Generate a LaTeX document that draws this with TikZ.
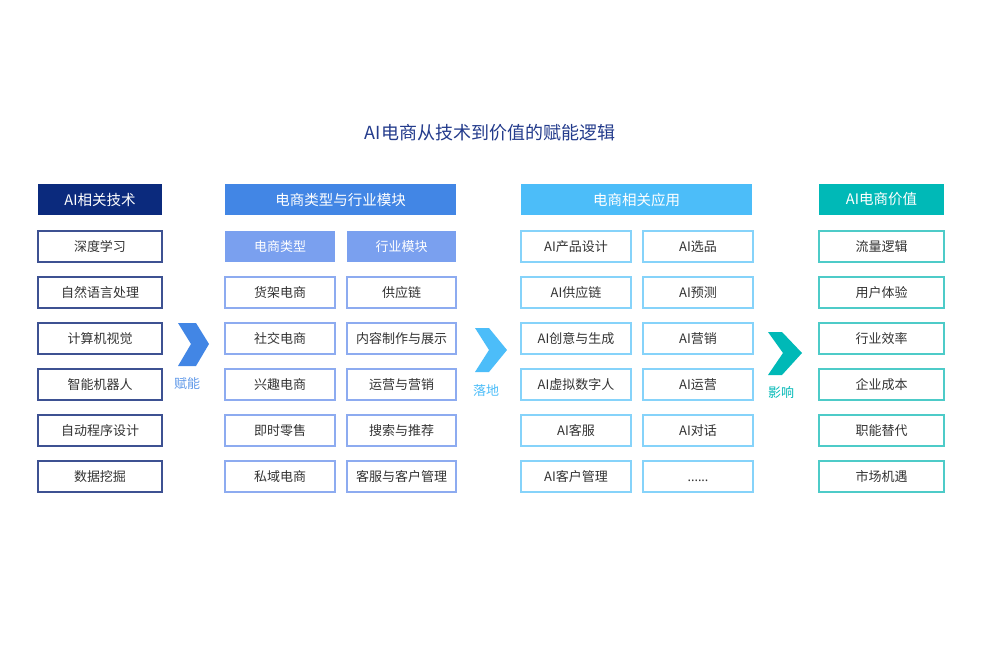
\documentclass[tikz,border=0pt]{standalone}
\usepackage{fontspec}
\setmainfont{Noto Sans CJK SC}
\newfontfamily\latinfont{Noto Sans}
\usepackage{tikz}

\definecolor{titleblue}{HTML}{233B8C}
\definecolor{navy}{HTML}{0B2A7D}
\definecolor{navyline}{HTML}{3D5192}
\definecolor{midblue}{HTML}{4286E5}
\definecolor{subblue}{HTML}{7AA0EF}
\definecolor{midline}{HTML}{8DABF0}
\definecolor{skyblue}{HTML}{4CBDF9}
\definecolor{skyline}{HTML}{86D3FA}
\definecolor{teal}{HTML}{00B9B7}
\definecolor{tealline}{HTML}{4DCBC8}
\definecolor{bodytext}{HTML}{333333}

\tikzset{
  headbox/.style={minimum height=31pt, inner sep=0pt, text=white,
    font=\fontsize{14.5}{16}\selectfont},
  itembox/.style={draw, line width=1.1pt, fill=white, minimum height=31pt,
    inner sep=0pt, text=bodytext, font=\fontsize{13}{15}\selectfont},
  arrowlabel/.style={font=\fontsize{13}{15}\selectfont}
}

\begin{document}
\begin{tikzpicture}[x=1pt, y=-1pt]
  \useasboundingbox[fill=white] (0,0) rectangle (989,654);
  % Title
  \node[text=titleblue, font=\fontsize{18}{20}\selectfont] (title) at (490,133)
    {AI电商从技术到价值的赋能逻辑};

  % Column 1: AI technologies
  \node[headbox, fill=navy, minimum width=124pt] (tech) at (100,199.5) {AI相关技术};
  \node[itembox, draw=navyline, minimum width=124pt] (tech1) at (100,246.5) {深度学习};
  \node[itembox, draw=navyline, minimum width=124pt] (tech2) at (100,292.5) {自然语言处理};
  \node[itembox, draw=navyline, minimum width=124pt] (tech3) at (100,338.5) {计算机视觉};
  \node[itembox, draw=navyline, minimum width=124pt] (tech4) at (100,384.5) {智能机器人};
  \node[itembox, draw=navyline, minimum width=124pt] (tech5) at (100,430.5) {自动程序设计};
  \node[itembox, draw=navyline, minimum width=124pt] (tech6) at (100,476.5) {数据挖掘};

  % Column 2: e-commerce types and industry modules
  \node[headbox, fill=midblue, minimum width=231pt] (biz) at (340.5,199.5) {电商类型与行业模块};
  \node[headbox, fill=subblue, minimum width=110pt, font=\fontsize{13}{15}\selectfont]
    (types) at (280,246.5) {电商类型};
  \node[headbox, fill=subblue, minimum width=109pt, font=\fontsize{13}{15}\selectfont]
    (modules) at (401.5,246.5) {行业模块};
  \node[itembox, draw=midline, minimum width=110pt] (type1) at (280,292.5) {货架电商};
  \node[itembox, draw=midline, minimum width=110pt] (type2) at (280,338.5) {社交电商};
  \node[itembox, draw=midline, minimum width=110pt] (type3) at (280,384.5) {兴趣电商};
  \node[itembox, draw=midline, minimum width=110pt] (type4) at (280,430.5) {即时零售};
  \node[itembox, draw=midline, minimum width=110pt] (type5) at (280,476.5) {私域电商};
  \node[itembox, draw=midline, minimum width=109pt] (mod1) at (401.5,292.5) {供应链};
  \node[itembox, draw=midline, minimum width=109pt] (mod2) at (401.5,338.5) {内容制作与展示};
  \node[itembox, draw=midline, minimum width=109pt] (mod3) at (401.5,384.5) {运营与营销};
  \node[itembox, draw=midline, minimum width=109pt] (mod4) at (401.5,430.5) {搜索与推荐};
  \node[itembox, draw=midline, minimum width=109pt] (mod5) at (401.5,476.5) {客服与客户管理};

  % Column 3: applications
  \node[headbox, fill=skyblue, minimum width=231pt] (apps) at (636.5,199.5) {电商相关应用};
  \node[itembox, draw=skyline, minimum width=110pt] (appA1) at (576,246.5) {AI产品设计};
  \node[itembox, draw=skyline, minimum width=110pt] (appA2) at (576,292.5) {AI供应链};
  \node[itembox, draw=skyline, minimum width=110pt] (appA3) at (576,338.5) {AI创意与生成};
  \node[itembox, draw=skyline, minimum width=110pt] (appA4) at (576,384.5) {AI虚拟数字人};
  \node[itembox, draw=skyline, minimum width=110pt] (appA5) at (576,430.5) {AI客服};
  \node[itembox, draw=skyline, minimum width=110pt] (appA6) at (576,476.5) {AI客户管理};
  \node[itembox, draw=skyline, minimum width=110pt] (appB1) at (698,246.5) {AI选品};
  \node[itembox, draw=skyline, minimum width=110pt] (appB2) at (698,292.5) {AI预测};
  \node[itembox, draw=skyline, minimum width=110pt] (appB3) at (698,338.5) {AI营销};
  \node[itembox, draw=skyline, minimum width=110pt] (appB4) at (698,384.5) {AI运营};
  \node[itembox, draw=skyline, minimum width=110pt] (appB5) at (698,430.5) {AI对话};
  \node[itembox, draw=skyline, minimum width=110pt] (appB6) at (698,476.5)
    {\vphantom{客}\latinfont ......};

  % Column 4: value
  \node[headbox, fill=teal, minimum width=125pt] (value) at (881.5,199.5) {AI电商价值};
  \node[itembox, draw=tealline, minimum width=125pt] (val1) at (881.5,246.5) {流量逻辑};
  \node[itembox, draw=tealline, minimum width=125pt] (val2) at (881.5,292.5) {用户体验};
  \node[itembox, draw=tealline, minimum width=125pt] (val3) at (881.5,338.5) {行业效率};
  \node[itembox, draw=tealline, minimum width=125pt] (val4) at (881.5,384.5) {企业成本};
  \node[itembox, draw=tealline, minimum width=125pt] (val5) at (881.5,430.5) {职能替代};
  \node[itembox, draw=tealline, minimum width=125pt] (val6) at (881.5,476.5) {市场机遇};

  % Chevrons between columns
  \fill[midblue] (178,323) -- (196,323) -- (209,344) -- (196,366) -- (178,366) -- (191,344) -- cycle;
  \node[arrowlabel, text=midblue!85] (enable) at (187,384) {赋能};
  \fill[skyblue] (475,328) -- (489,328) -- (507,350) -- (489,372) -- (475,372) -- (489,350) -- cycle;
  \node[arrowlabel, text=skyblue] (land) at (486,391) {落地};
  \fill[teal] (768,332) -- (782,332) -- (802,353) -- (782,375) -- (768,375) -- (783,353) -- cycle;
  \node[arrowlabel, text=teal] (impact) at (781,393) {影响};
\end{tikzpicture}
\end{document}
